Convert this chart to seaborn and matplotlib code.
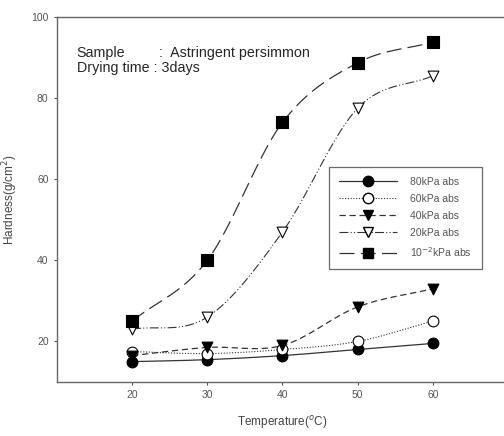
import numpy as np
import pandas as pd
import matplotlib
matplotlib.use('Agg')
import matplotlib.pyplot as plt
import seaborn as sns
from matplotlib.lines import Line2D

# data
temperature = [20, 30, 40, 50, 60]
kpa80 = [15.0, 15.5, 16.5, 18.0, 19.5]
kpa60 = [17.5, 17.0, 18.0, 20.0, 25.0]
kpa40 = [16.5, 18.5, 19.0, 28.5, 33.0]
kpa20 = [23.0, 26.0, 47.0, 77.5, 85.5]
kpa001 = [25.0, 40.0, 74.0, 88.7, 93.8]

labels = ['80kPa abs', '60kPa abs', '40kPa abs', '20kPa abs', r'10$^{-2}$kPa abs']
series = [kpa80, kpa60, kpa40, kpa20, kpa001]
markers = ['o', 'o', 'v', 'v', 's']
fills = ['black', 'white', 'black', 'white', 'black']
dashes = ['-', (0, (1, 1.5)), (0, (5, 3)), (0, (8, 2, 1, 2, 1, 2)), (0, (12, 5))]
widths = [0.9, 0.8, 0.9, 0.8, 0.9]
sizes = [60, 60, 60, 60, 70]


def smooth(x, y, n=30):
    """catmull-rom curve through the points, only used to draw the line"""
    x = np.asarray(x, float)
    y = np.asarray(y, float)
    px = np.concatenate([[2 * x[0] - x[1]], x, [2 * x[-1] - x[-2]]])
    py = np.concatenate([[2 * y[0] - y[1]], y, [2 * y[-1] - y[-2]]])
    xs, ys = [], []
    t = np.linspace(0, 1, n)
    for i in range(1, len(px) - 2):
        for p, out in ((px, xs), (py, ys)):
            p0, p1, p2, p3 = p[i - 1], p[i], p[i + 1], p[i + 2]
            out.extend(0.5 * (2 * p1 + (-p0 + p2) * t
                              + (2 * p0 - 5 * p1 + 4 * p2 - p3) * t ** 2
                              + (-p0 + 3 * p1 - 3 * p2 + p3) * t ** 3))
    return np.array(xs), np.array(ys)


sns.set_style('ticks')
plt.rcParams['font.family'] = ['Liberation Sans', 'DejaVu Sans']

fig = plt.figure(figsize=(5.04, 4.36), dpi=100)
ax = fig.add_axes([0.113, 0.124, 0.895, 0.837])

handles = []
for lab, vals, m, fc, ls, lw, s in zip(labels, series, markers, fills, dashes, widths, sizes):
    sx, sy = smooth(temperature, vals)
    ax.plot(sx, sy, color='#333333', linestyle=ls, linewidth=lw, zorder=2)
    df = pd.DataFrame({'Temperature': temperature, 'Hardness': vals})
    sns.scatterplot(data=df, x='Temperature', y='Hardness', ax=ax, marker=m,
                    s=s, color=fc, edgecolor='black', linewidth=0.8, zorder=3)
    handles.append(Line2D([], [], color='#333333', linestyle=ls, linewidth=lw,
                          marker=m, markersize=7.5, markerfacecolor=fc,
                          markeredgecolor='black'))

ax.set_xlim(10, 70)
ax.set_ylim(10, 100)
ax.set_xticks([20, 30, 40, 50, 60])
ax.set_yticks([20, 40, 60, 80, 100])
ax.tick_params(labelsize=7.5, colors='#555555', length=2.5, width=0.8)
ax.set_xlabel('Temperature($^{o}$C)', fontsize=8.5, color='#444444', labelpad=10)
ax.set_ylabel('Hardness(g/cm$^{2}$)', fontsize=8.5, color='#444444', labelpad=8)
for side in ['left', 'bottom', 'top', 'right']:
    ax.spines[side].set_visible(True)
    ax.spines[side].set_color('#666666')
    ax.spines[side].set_linewidth(1.0)

ax.text(0.152, 0.870, 'Sample', transform=fig.transFigure, fontsize=10.3)
ax.text(0.315, 0.870, ':  Astringent persimmon', transform=fig.transFigure, fontsize=10.3)
ax.text(0.152, 0.836, 'Drying time : 3days', transform=fig.transFigure, fontsize=10.3)

leg = ax.legend(handles, labels, loc='upper left', bbox_to_anchor=(0.652, 0.617),
                bbox_transform=fig.transFigure, fontsize=7.5, frameon=True,
                fancybox=False, edgecolor='#444444', handlelength=5.6,
                labelspacing=0.68, handletextpad=1.3, borderpad=0.95,
                borderaxespad=0)
leg.get_frame().set_linewidth(0.9)
for t in leg.get_texts():
    t.set_color('#555555')

plt.savefig('out.png', dpi=100)
